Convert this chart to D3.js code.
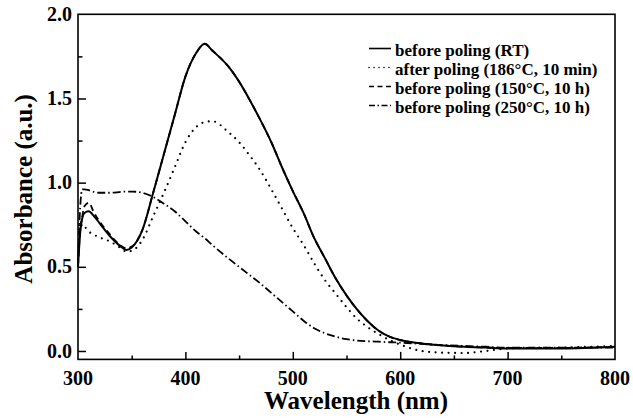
<!DOCTYPE html>
<html>
<head>
<meta charset="utf-8">
<script src="https://cdn.jsdelivr.net/npm/d3@7"></script>
<style>
  body { margin: 0; background: #fff; }
  text { font-family: "Liberation Serif", "Times New Roman", serif; font-weight: bold; fill: #000; }
</style>
</head>
<body>
<div id="chart"></div>
<script>
// wavelengths (nm) shared by all four spectra
const wavelength = [300, 302, 304, 306, 310, 315, 320, 330, 340, 345, 350, 360, 370, 380, 390, 400, 410, 418, 425, 440, 450, 460, 470, 480, 490, 500, 510, 520, 530, 540, 550, 560, 570, 580, 590, 600, 620, 640, 660, 680, 700, 750, 800]

// absorbance
const beforeRT = [0.50, 0.70, 0.79, 0.82, 0.83, 0.80, 0.76, 0.68, 0.62, 0.60, 0.615, 0.72, 0.94, 1.17, 1.40, 1.63, 1.77, 1.825, 1.785, 1.69, 1.60, 1.49, 1.37, 1.24, 1.09, 0.95, 0.82, 0.67, 0.55, 0.43, 0.33, 0.245, 0.175, 0.12, 0.085, 0.065, 0.045, 0.033, 0.025, 0.02, 0.015, 0.015, 0.025]
const afterPoling = [0.55, 0.72, 0.75, 0.74, 0.71, 0.69, 0.675, 0.65, 0.61, 0.59, 0.595, 0.66, 0.80, 0.94, 1.09, 1.24, 1.33, 1.36, 1.365, 1.30, 1.24, 1.16, 1.07, 0.96, 0.845, 0.73, 0.63, 0.52, 0.42, 0.34, 0.26, 0.19, 0.14, 0.10, 0.065, 0.038, 0.0, -0.01, -0.012, 0.0, 0.015, 0.02, 0.03]
const before150 = [0.50, 0.72, 0.80, 0.86, 0.88, 0.82, 0.77, 0.69, 0.625, 0.61, 0.62, 0.72, 0.94, 1.17, 1.40, 1.63, 1.77, 1.825, 1.785, 1.69, 1.60, 1.49, 1.37, 1.24, 1.09, 0.95, 0.82, 0.67, 0.55, 0.43, 0.33, 0.245, 0.175, 0.12, 0.085, 0.065, 0.045, 0.033, 0.025, 0.02, 0.018, 0.018, 0.025]
const before250 = [0.50, 0.85, 0.96, 0.96, 0.955, 0.945, 0.94, 0.94, 0.945, 0.947, 0.947, 0.94, 0.915, 0.875, 0.83, 0.77, 0.71, 0.67, 0.63, 0.55, 0.50, 0.45, 0.40, 0.345, 0.29, 0.235, 0.18, 0.135, 0.105, 0.085, 0.07, 0.062, 0.058, 0.055, 0.052, 0.05, 0.042, 0.035, 0.03, 0.025, 0.02, 0.02, 0.02]

const seriesNames = ['before poling (RT)', 'after poling (186\u00b0C, 10 min)', 'before poling (150\u00b0C, 10 h)', 'before poling (250\u00b0C, 10 h)']
const seriesValues = [beforeRT, afterPoling, before150, before250]
const dashes = [null, '0,6.5', '6,4', '8,3,1.5,3']
const widths = [2, 2.2, 1.8, 1.8]

const xTicks = [300, 400, 500, 600, 700, 800]
const yTicks = [0.0, 0.5, 1.0, 1.5, 2.0]

const width = 633
const height = 420
const plotLeft = 78, plotRight = 615, plotTop = 14.3, plotBottom = 359.4

const x = d3.scaleLinear().domain([300, 800]).range([plotLeft, plotRight])
const y = d3.scaleLinear().domain([-0.05, 2.0]).range([plotBottom, plotTop])

const svg = d3.select('#chart')
  .append('svg')
  .attr('width', width)
  .attr('height', height)

// frame
svg.append('rect')
  .attr('x', plotLeft)
  .attr('y', plotTop)
  .attr('width', plotRight - plotLeft)
  .attr('height', plotBottom - plotTop)
  .style('fill', 'none')
  .style('stroke', '#000')
  .style('stroke-width', 1.6)

// x ticks, inward
const xMinor = d3.range(350, 800, 100)
svg.append('g')
  .attr('transform', `translate(0,${plotBottom})`)
  .call(d3.axisTop(x).tickValues(xMinor).tickSize(4).tickFormat(''))
  .call(g => g.select('.domain').remove())
svg.append('g')
  .attr('transform', `translate(0,${plotBottom})`)
  .call(d3.axisTop(x).tickValues(xTicks.slice(1, -1)).tickSize(7.5).tickFormat(''))
  .call(g => g.select('.domain').remove())

svg.append('g')
  .selectAll('text')
  .data(xTicks)
  .enter()
  .append('text')
  .attr('x', d => x(d))
  .attr('y', 385)
  .attr('text-anchor', 'middle')
  .style('font-size', '20px')
  .text(d => d)

// y ticks, inward
const yMinor = [0.25, 0.75, 1.25, 1.75]
svg.append('g')
  .attr('transform', `translate(${plotLeft},0)`)
  .call(d3.axisRight(y).tickValues(yMinor).tickSize(4.5).tickFormat(''))
  .call(g => g.select('.domain').remove())
svg.append('g')
  .attr('transform', `translate(${plotLeft},0)`)
  .call(d3.axisRight(y).tickValues(yTicks.slice(0, -1)).tickSize(8).tickFormat(''))
  .call(g => g.select('.domain').remove())
svg.selectAll('.tick line').style('stroke-width', 1.5)

svg.append('g')
  .selectAll('text')
  .data(yTicks)
  .enter()
  .append('text')
  .attr('x', 72)
  .attr('y', d => y(d))
  .attr('dy', '0.33em')
  .attr('text-anchor', 'end')
  .style('font-size', '20px')
  .text(d => d.toFixed(1))

// axis titles
svg.append('text')
  .attr('x', 356)
  .attr('y', 409)
  .attr('text-anchor', 'middle')
  .style('font-size', '25px')
  .text('Wavelength (nm)')
svg.append('text')
  .attr('transform', `translate(32,${(plotTop + plotBottom) / 2 + 2}) rotate(-90)`)
  .attr('text-anchor', 'middle')
  .style('font-size', '25px')
  .text('Absorbance (a.u.)')

// spectra
const line = d3.line()
  .x((d, i) => x(wavelength[i]))
  .y(d => y(d))
  .curve(d3.curveMonotoneX)

svg.append('g')
  .selectAll('path')
  .data(seriesValues)
  .enter()
  .append('path')
  .attr('d', line)
  .style('fill', 'none')
  .style('stroke', '#000')
  .style('stroke-width', (d, i) => widths[i])
  .style('stroke-linecap', (d, i) => i === 1 ? 'round' : 'butt')
  .style('stroke-dasharray', (d, i) => dashes[i])

// legend
const legend = svg.append('g')
  .selectAll('g')
  .data(seriesNames)
  .enter()
  .append('g')
  .attr('transform', (d, i) => `translate(369,${48.5 + i * 19})`)
legend.append('line')
  .attr('x1', 0)
  .attr('x2', 22)
  .style('stroke', '#000')
  .style('stroke-width', 1.6)
  .style('stroke-linecap', (d, i) => i === 1 ? 'round' : 'butt')
  .style('stroke-dasharray', (d, i) => i === 1 ? '0,5' : i === 2 ? '5,3.5' : i === 3 ? '6,2.5,1.5,2.5' : null)
legend.append('text')
  .attr('x', 26)
  .attr('y', 7)
  .style('font-size', '17px')
  .text(d => d)
</script>
</body>
</html>
